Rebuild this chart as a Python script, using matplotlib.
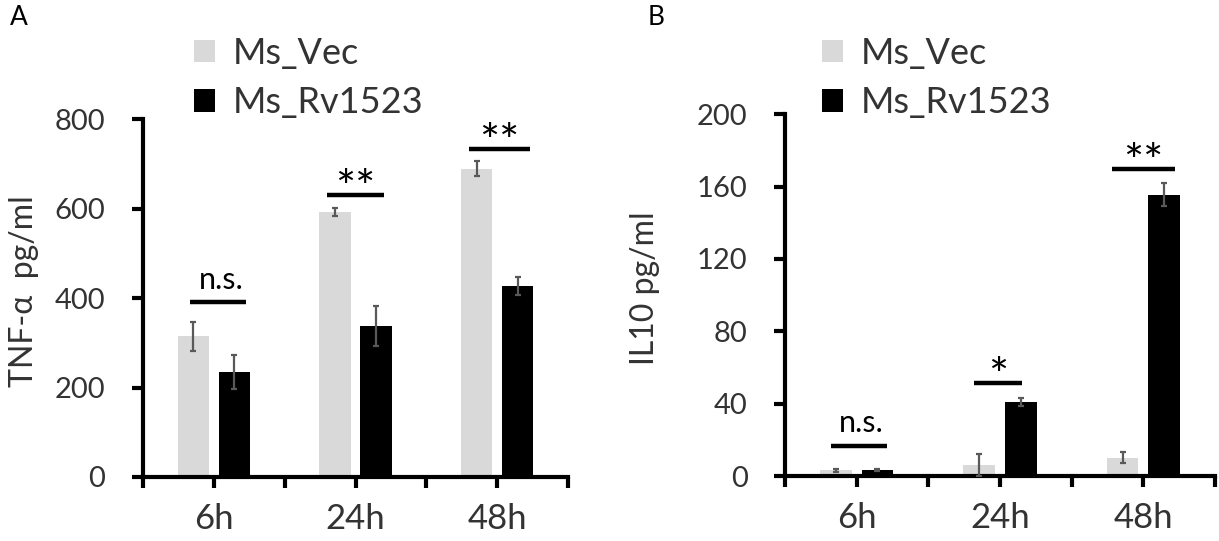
import numpy as np
import matplotlib
matplotlib.use("Agg")
import matplotlib.pyplot as plt

plt.rcParams['font.family'] = ['Lato', 'DejaVu Sans']

# data
times = ["6h", "24h", "48h"]
series = ["Ms_Vec", "Ms_Rv1523"]

tnf_vec = [314, 592, 689]
tnf_vec_err = [33, 9, 17]
tnf_rv = [235, 337, 427]
tnf_rv_err = [38, 45, 21]

il10_vec = [3.3, 6.0, 10.2]
il10_vec_err = [0.8, 6.0, 3.2]
il10_rv = [3.2, 41.0, 155.5]
il10_rv_err = [0.5, 2.3, 6.4]

# significance brackets: label, line height, left/right in category units
tnf_sig = [("n.s.", 391, -0.17, 0.23), ("**", 631, -0.20, 0.20), ("**", 733, -0.20, 0.23)]
il10_sig = [("n.s.", 16.8, -0.18, 0.21), ("*", 51.5, -0.18, 0.15), ("**", 169.7, -0.22, 0.22)]

gray = "#d9d9d9"
txt = "#333333"

fig = plt.figure(figsize=(12.19, 5.41), dpi=100)
axA = fig.add_axes([0.1173, 0.1183, 0.3487, 0.6617])
axB = fig.add_axes([0.6440, 0.1200, 0.3527, 0.6690])

x = np.arange(len(times))
w = 0.22
off = 0.145


def draw(ax, vec, vec_err, rv, rv_err, sig, ymax, ystep, ylabel, lab_x):
    ax.bar(x - off, vec, w, color=gray, label=series[0], zorder=2)
    ax.bar(x + off, rv, w, color="black", label=series[1], zorder=2)
    ax.errorbar(x - off, vec, yerr=vec_err, fmt="none", ecolor="#595959",
                elinewidth=1.6, capsize=2.5, capthick=1.6, zorder=3)
    ax.errorbar(x + off, rv, yerr=rv_err, fmt="none", ecolor="#595959",
                elinewidth=1.6, capsize=2.5, capthick=1.6, zorder=3)

    for i, (lab, h, l, r) in enumerate(sig):
        ax.plot([i + l, i + r], [h, h], color="black", lw=3.2,
                solid_capstyle="butt", clip_on=False)
        if lab == "n.s.":
            ax.annotate(lab, ((2 * i + l + r) / 2 + 0.02, h), xytext=(0, 16),
                        textcoords="offset points", ha="center", va="center",
                        fontsize=22, color="black")
        else:
            ax.annotate(lab, ((2 * i + l + r) / 2, h), xytext=(0, -6),
                        textcoords="offset points", ha="center", va="baseline",
                        fontsize=34, color="black")

    ax.set_xlim(-0.5, 2.5)
    ax.set_ylim(0, ymax)
    ax.set_yticks(np.arange(0, ymax + 1, ystep))
    ax.set_xticks(x)
    ax.set_xticklabels(times)
    ax.set_xticks(np.arange(-0.5, 2.6, 1), minor=True)

    for s in ["top", "right"]:
        ax.spines[s].set_visible(False)
    for s in ["left", "bottom"]:
        ax.spines[s].set_linewidth(3)
        ax.spines[s].set_color("black")

    ax.tick_params(axis="y", direction="out", length=8, width=3,
                   labelsize=21, labelcolor=txt, pad=19)
    ax.tick_params(axis="x", which="both", direction="out", length=8, width=3,
                   labelsize=25, labelcolor=txt, pad=11)

    ax.set_ylabel(ylabel, fontsize=23, color=txt)
    ax.yaxis.set_label_coords(lab_x, 0.52)


draw(axA, tnf_vec, tnf_vec_err, tnf_rv, tnf_rv_err, tnf_sig, 800, 200,
     "TNF-α  pg/ml", -0.245)
draw(axB, il10_vec, il10_vec_err, il10_rv, il10_rv_err, il10_sig, 200, 40,
     "IL10 pg/ml", -0.29)

for ax, lx in [(axA, 0.159), (axB, 0.674)]:
    leg = ax.legend(loc="upper left", bbox_to_anchor=(lx, 0.932),
                    bbox_transform=fig.transFigure, frameon=False,
                    fontsize=26, handlelength=0.58, handleheight=0.58,
                    handletextpad=0.5, labelspacing=0.45, borderpad=0,
                    borderaxespad=0)
    for t in leg.get_texts():
        t.set_color(txt)

fig.text(0.008, 0.99, "A", fontsize=19, va="top", ha="left")
fig.text(0.531, 0.99, "B", fontsize=19, va="top", ha="left")

fig.savefig("out.png", dpi=100)
